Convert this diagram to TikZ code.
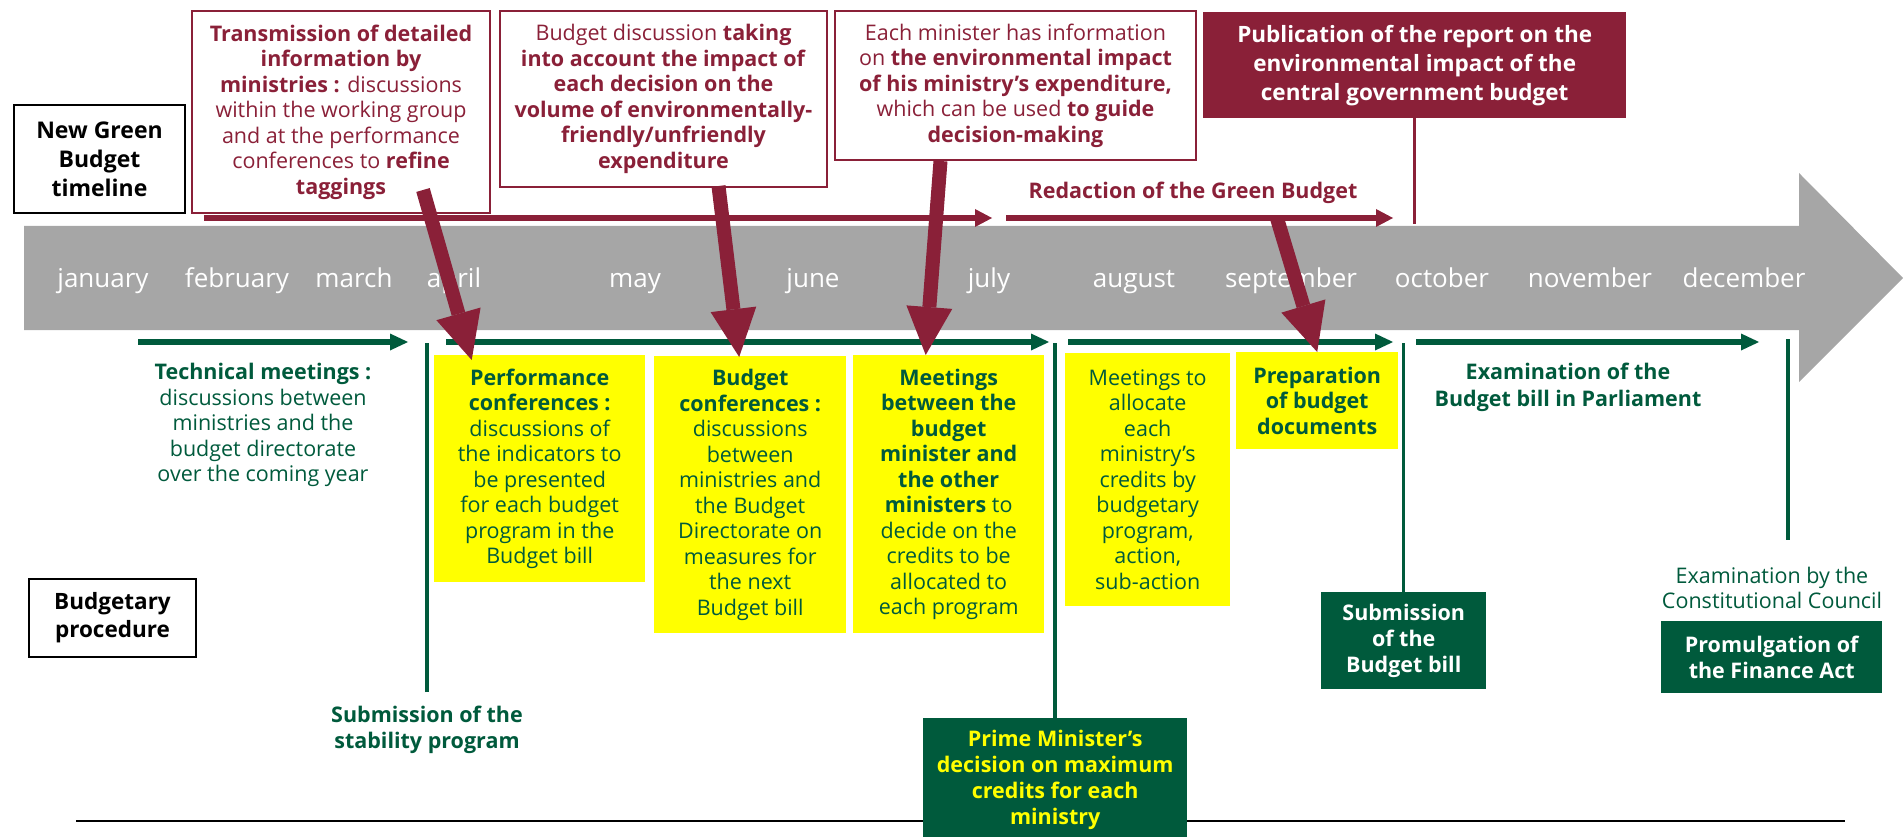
\documentclass[tikz,border=0pt]{standalone}
\usepackage{fontspec}
\setmainfont{Open Sans}
\usetikzlibrary{arrows.meta,calc,positioning}
\definecolor{bordeaux}{RGB}{138,32,56}
\definecolor{vert}{RGB}{0,90,60}
\definecolor{jaune}{RGB}{255,255,0}
\definecolor{gris}{RGB}{166,166,166}
\begin{document}
\begin{tikzpicture}[x=1pt,y=-1pt,
    txt/.style={align=center,inner sep=0pt,font=\fontsize{21.5}{25.5}\selectfont},
    redbox/.style={txt,draw=bordeaux,line width=2pt,text=bordeaux,anchor=north west},
    yellowbox/.style={txt,fill=jaune,text=vert,anchor=north west},
    greenbox/.style={txt,fill=vert,text=white,anchor=north west,font=\fontsize{21.5}{26}\selectfont\bfseries},
    label/.style={align=center,draw=black,line width=2pt,anchor=north west,inner sep=0pt,font=\fontsize{23}{29}\selectfont\bfseries},
    month/.style={text=white,inner sep=0pt,text height=19pt,text depth=6pt,font=\fontsize{26}{30}\selectfont},
    redarrow/.style={draw=bordeaux,line width=6pt,-{Triangle[length=17pt,width=18pt,line width=0pt]}},
    bigarrow/.style={draw=bordeaux,line width=14pt,-{Triangle[length=48pt,width=46pt,line width=0pt]}},
    greenarrow/.style={draw=vert,line width=6pt,-{Triangle[length=18pt,width=17pt,line width=0pt]}},
    vline/.style={draw=vert,line width=3.5pt}]
  \useasboundingbox (0,0) rectangle (1903,837);

  % months band
  \fill[gris] (24,226) -- (1799,226) -- (1799,173) -- (1903,278) -- (1799,382) -- (1799,330) -- (24,330) -- cycle;
  \foreach \m/\x in {january/103,february/237,march/354,april/454,may/635,june/813,july/989,
      august/1134,september/1291,october/1442,november/1590,december/1744}
    \node[month] (m-\m) at (\x,281) {\m};

  \draw[line width=2.5pt] (76,821) -- (1845,821);

  % green budget side
  \node[label,minimum width=171,minimum height=108] (ngb) at (13,104) {New Green\\ Budget\\ timeline};
  \node[redbox,minimum width=298,minimum height=202] (trans) at (191,10)
    {\textbf{Transmission of detailed}\\ \textbf{information by}\\ \textbf{ministries :} discussions\\
     within the working group\\ and at the performance\\ conferences to \textbf{refine}\\ \textbf{taggings}};
  \node[redbox,minimum width=327,minimum height=176] (discuss) at (499,10)
    {Budget discussion \textbf{taking}\\ \textbf{into account the impact of}\\ \textbf{each decision on the}\\
     \textbf{volume of environmentally-}\\ \textbf{friendly/unfriendly}\\ \textbf{expenditure}};
  \node[redbox,minimum width=361,minimum height=149] (info) at (834,10)
    {Each minister has information\\ on \textbf{the environmental impact}\\ \textbf{of his ministry’s expenditure,}\\
     which can be used \textbf{to guide}\\ \textbf{decision-making}};
  \node[txt,fill=bordeaux,text=white,anchor=north west,minimum width=423,minimum height=106,
    font=\fontsize{22.5}{29}\selectfont\bfseries] (publi) at (1203,12)
    {Publication of the report on the\\ environmental impact of the\\ central government budget};
  \node[txt,text=bordeaux,font=\fontsize{21.5}{25.5}\selectfont\bfseries] (redac) at (1193,193) {Redaction of the Green Budget};

  \coordinate (r1a) at (204,218);
  \coordinate (r1b) at (992,218);
  \coordinate (r2a) at (1006,218);
  \coordinate (r2b) at (1393,218);
  \draw[redarrow] (r1a) -- (r1b);
  \draw[redarrow] (r2a) -- (r2b);
  \draw[draw=bordeaux,line width=3.5pt] (publi.south) -- ++(0,106);

  % budgetary procedure side
  \node[label,minimum width=167,minimum height=78,font=\fontsize{22.5}{28}\selectfont\bfseries] (bproc) at (28,578) {Budgetary\\ procedure};
  \node[txt,text=vert] (tech) at (263,425)
    {\textbf{Technical meetings :}\\ discussions between\\ ministries and the\\ budget directorate\\ over the coming year};
  \node[txt,text=vert,font=\fontsize{21.5}{25.5}\selectfont\bfseries] (stab) at (427,730) {Submission of the\\ stability program};
  \node[yellowbox,minimum width=211,minimum height=227] (perf) at (434,355)
    {\textbf{Performance}\\ \textbf{conferences :}\\ discussions of\\ the indicators to\\ be presented\\
     for each budget\\ program in the\\ Budget bill};
  \node[yellowbox,minimum width=192,minimum height=277] (bconf) at (654,356)
    {\textbf{Budget}\\ \textbf{conferences :}\\ discussions\\ between\\ ministries and\\ the Budget\\
     Directorate on\\ measures for\\ the next\\ Budget bill};
  \node[yellowbox,minimum width=191,minimum height=278] (meet) at (853,355)
    {\textbf{Meetings}\\ \textbf{between the}\\ \textbf{budget}\\ \textbf{minister and}\\ \textbf{the other}\\
     \textbf{ministers} to\\ decide on the\\ credits to be\\ allocated to\\ each program};
  \node[yellowbox,minimum width=165,minimum height=253] (alloc) at (1065,353)
    {Meetings to\\ allocate\\ each\\ ministry’s\\ credits by\\ budgetary\\ program,\\ action,\\ sub-action};
  \node[yellowbox,minimum width=162,minimum height=97,font=\fontsize{21.5}{25.5}\selectfont\bfseries] (prep) at (1236,352)
    {Preparation\\ of budget\\ documents};
  \node[greenbox,minimum width=165,minimum height=97] (subbill) at (1321,592) {Submission\\ of the\\ Budget bill};
  \node[txt,text=vert,font=\fontsize{21.5}{27}\selectfont\bfseries] (exam) at (1568,387)
    {Examination of the\\ Budget bill in Parliament};
  \node[txt,text=vert,font=\fontsize{21.5}{25.5}\selectfont] (const) at (1772,588)
    {Examination by the\\ Constitutional Council};
  \node[greenbox,minimum width=221,minimum height=72] (promul) at (1661,621) {Promulgation of\\ the Finance Act};
  \node[greenbox,text=jaune,minimum width=264,minimum height=124] (pm) at (923,718)
    {Prime Minister’s\\ decision on maximum\\ credits for each\\ ministry};

  \coordinate (gtop) at (0,343);
  \coordinate (g1a) at (138,342);
  \coordinate (g1b) at (408,342);
  \coordinate (g2a) at (446,342);
  \coordinate (g2b) at (1049,342);
  \coordinate (g3a) at (1068,342);
  \coordinate (g3b) at (1393,342);
  \coordinate (g4a) at (1416,342);
  \coordinate (g4b) at (1759,342);
  \draw[greenarrow] (g1a) -- (g1b);
  \draw[greenarrow] (g2a) -- (g2b);
  \draw[greenarrow] (g3a) -- (g3b);
  \draw[greenarrow] (g4a) -- (g4b);

  \draw[vline,shorten <=14pt] (stab.north) -- (stab.north |- gtop);
  \draw[vline] (pm.north) -- (pm.north |- gtop);
  \draw[vline] (subbill.north) -- (subbill.north |- gtop);
  \coordinate (v4a) at (1788,339);
  \coordinate (v4b) at (1788,540);
  \draw[vline] (v4a) -- (v4b);

  % links from the green budget to the procedure
  \draw[bigarrow] ([xshift=82,yshift=24]trans.south) -- ([xshift=-68,yshift=-5]perf.north);
  \draw[bigarrow] ([xshift=55,yshift=2]discuss.south) -- ([xshift=-11,yshift=-1]bconf.north);
  \draw[bigarrow] ([xshift=-75]info.south) -- ([xshift=-23]meet.north);
  \draw[bigarrow] ($(r2a)!0.7!(r2b)$) -- (prep.north);
\end{tikzpicture}
\end{document}
